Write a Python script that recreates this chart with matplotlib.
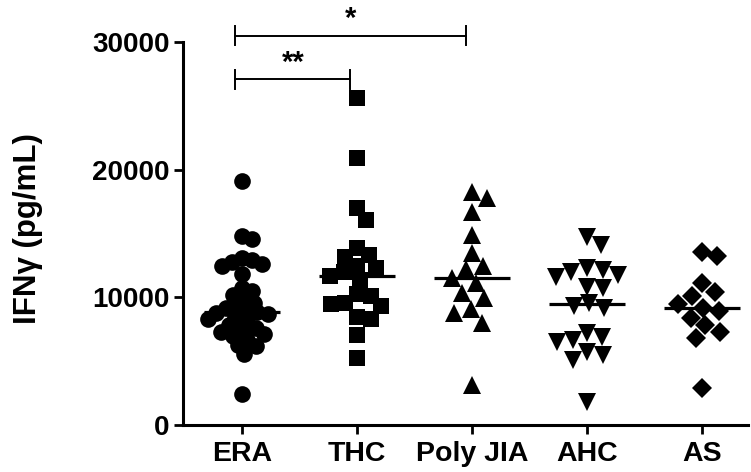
import numpy as np
import matplotlib
matplotlib.use("Agg")
import matplotlib.pyplot as plt

plt.rcParams["font.family"] = ["Liberation Sans", "DejaVu Sans"]
plt.rcParams["font.weight"] = "bold"

groups = ["ERA", "THC", "Poly JIA", "AHC", "AS"]

era = [19100, 14800, 14600, 13100, 12900, 12800, 12600, 12500, 11800, 10700,
       10500, 10200, 9900, 9600, 9400, 9200, 8880, 8820, 8800, 8700, 8500,
       8300, 8100, 7800, 7600, 7400, 7300, 7100, 7000, 6700, 6300, 6200,
       5600, 2400]
thc = [25600, 20900, 17000, 16100, 13850, 13300, 13200, 12500, 12300, 12000,
       11700, 11400, 10300, 10100, 9600, 9500, 9300, 8500, 8300, 7050, 5230]
poly_jia = [18290, 17770, 16720, 14890, 13460, 12460, 12200, 11500, 11100,
            10320, 9930, 9070, 8800, 8020, 3130]
ahc = [14760, 14110, 12280, 12150, 12010, 11760, 11570, 10840, 10700, 9600,
       9300, 9200, 7240, 6900, 6660, 6530, 5750, 5490, 5090, 1830]
as_vals = [13580, 13240, 11100, 10400, 10100, 9500, 9200, 8900, 8400, 7800,
           7300, 6800, 2900]

series = [era, thc, poly_jia, ahc, as_vals]
markers = ["o", "s", "^", "v", "D"]
marker_sizes = [12, 11.5, 12.5, 12.5, 10.5]
swarm_dist = [10.5, 14.5, 17.0, 16.0, 16.0]

y_ticks = [0, 10000, 20000, 30000]
y_tick_labels = ["0", "10000", "20000", "30000"]

# significance comparisons: (group a, group b, label, bar height)
comparisons = [(0, 2, "*", 30500), (0, 1, "**", 27100)]

W, H, DPI = 7.51, 4.72, 100
fig = plt.figure(figsize=(W, H), dpi=DPI)
ax = fig.add_axes([0.2437, 0.0996, 0.7523, 0.8108])

xmin, xmax = -0.51, 4.40
ymin, ymax = 0, 30000
ax.set_xlim(xmin, xmax)
ax.set_ylim(ymin, ymax)

# pixel scales used to lay out the swarm
bbox = ax.get_position()
px_per_x = bbox.width * W * DPI / (xmax - xmin)
px_per_y = bbox.height * H * DPI / (ymax - ymin)


def swarm_offsets(values, dist_px):
    vals = np.asarray(values, dtype=float)
    ys = vals * px_per_y
    placed = []
    offs = np.zeros(len(vals))
    for i in np.argsort(-vals):
        y = ys[i]
        cands = [0.0]
        for (px, py) in placed:
            dy = abs(y - py)
            if dy < dist_px:
                dx = np.sqrt(dist_px ** 2 - dy ** 2)
                cands += [px + dx, px - dx]
        cands = sorted(cands, key=lambda c: (round(abs(c), 3), -c))
        for c in cands:
            if all((c - px) ** 2 + (y - py) ** 2 >= dist_px ** 2 - 1e-6
                   for (px, py) in placed):
                placed.append((c, y))
                offs[i] = c
                break
    return offs / px_per_x


for k, (vals, m, ms) in enumerate(zip(series, markers, marker_sizes)):
    xs = k + swarm_offsets(vals, swarm_dist[k])
    ax.plot(xs, vals, linestyle="none", marker=m, markersize=ms,
            color="black", markeredgewidth=0, clip_on=False, zorder=3)
    med = np.median(vals)
    ax.plot([k - 0.33, k + 0.33], [med, med], color="black", lw=2.3,
            solid_capstyle="butt", zorder=4)

ax.set_xticks(range(len(groups)))
ax.set_xticklabels(groups, fontsize=20.5, fontweight="bold")
ax.set_yticks(y_ticks)
ax.set_yticklabels(y_tick_labels, fontsize=20, fontweight="bold")

for side in ["top", "right"]:
    ax.spines[side].set_visible(False)
for side in ["left", "bottom"]:
    ax.spines[side].set_linewidth(2.2)
ax.tick_params(axis="both", width=2.0, length=6.5, color="black")
ax.tick_params(axis="y", pad=3)
ax.tick_params(axis="x", pad=5)

fig.text(28 / (W * DPI), 0.516, "IFNγ (pg/mL)", rotation=90, ha="center",
         va="center", fontsize=22.5, fontweight="bold")

# significance brackets
cap = 750
for a, b, lab, yv in comparisons:
    xa, xb = a - 0.055, b - 0.055
    ax.plot([xa, xb], [yv, yv], color="black", lw=1.4, clip_on=False)
    ax.plot([xa, xa], [yv - cap, yv + cap], color="black", lw=1.4, clip_on=False)
    ax.plot([xb, xb], [yv - cap, yv + cap], color="black", lw=1.4, clip_on=False)
    ax.text((xa + xb) / 2, yv + 200, lab, ha="center", va="bottom",
            fontsize=21, fontweight="bold", clip_on=False)

fig.savefig("out.png", dpi=DPI)
